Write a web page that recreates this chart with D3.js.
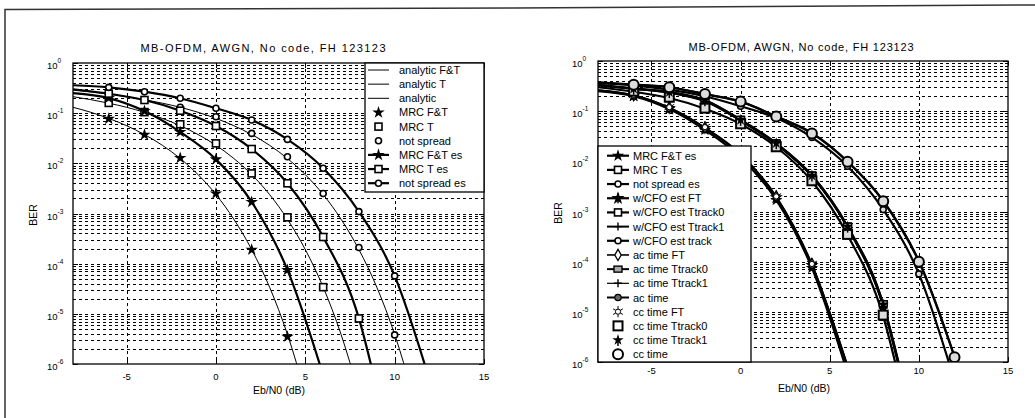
<!DOCTYPE html>
<html>
<head>
<meta charset="utf-8">
<script src="https://cdn.jsdelivr.net/npm/d3@7"></script>
<style>
  body { margin: 0; background: #fff; }
  svg { font-family: "Liberation Sans", Arial, sans-serif; }
</style>
</head>
<body>
<svg id="fig" width="1035" height="418"></svg>
<script>
// ---- left panel: analytic curves (thin lines) ----
var anaFtSnr = [-8, -7, -6, -5, -4, -3, -2, -1, 0, 1, 2, 3, 4, 5]
var anaFtBer = [0.131, 0.104, 0.0786, 0.0563, 0.0375, 0.0229, 0.0125, 0.00595, 0.00239, 7.7e-4, 1.91e-4, 3.4e-5, 3.9e-6, 2.6e-7]
var anaTSnr = [-8, -7, -6, -5, -4, -3, -2, -1, 0, 1, 2, 3, 4, 5, 6, 7, 8]
var anaTBer = [0.213, 0.186, 0.158, 0.131, 0.104, 0.0786, 0.0563, 0.0375, 0.0229, 0.0125, 0.00595, 0.00239, 7.7e-4, 1.91e-4, 3.4e-5, 3.9e-6, 2.6e-7]
var anaSnr = [-8, -7, -6, -5, -4, -3, -2, -1, 0, 1, 2, 3, 4, 5, 6, 7, 8, 9, 10, 11]
var anaBer = [0.287, 0.264, 0.239, 0.213, 0.186, 0.158, 0.131, 0.104, 0.0786, 0.0563, 0.0375, 0.0229, 0.0125, 0.00595, 0.00239, 7.7e-4, 1.91e-4, 3.4e-5, 3.9e-6, 2.6e-7]

// simulated points (markers only)
var mrcFtSnr = [-6, -4, -2, 0, 2, 4]
var mrcFtBer = [0.077, 0.037, 0.0128, 0.0025, 1.9e-4, 3.5e-6]
var mrcTSnr = [-6, -4, -2, 0, 2, 4, 6]
var mrcTBer = [0.16, 0.105, 0.06, 0.025, 6.3e-3, 8.4e-4, 3.4e-5]
var nsSnr = [-6, -4, -2, 0, 2, 4, 6, 8, 10]
var nsBer = [0.24, 0.186, 0.131, 0.085, 0.0395, 0.0135, 2.5e-3, 2.1e-4, 3.8e-6]

// "es" curves (thick lines)
var esFtSnr = [-8, -6, -4, -2, 0, 2, 4, 6]
var esFtBer = [0.25, 0.2, 0.11, 0.042, 0.012, 1.7e-3, 7.5e-5, 6e-7]
var esTSnr = [-8, -6, -4, -2, 0, 2, 4, 6, 8, 9]
var esTBer = [0.30, 0.245, 0.183, 0.112, 0.0555, 0.0193, 4.0e-3, 3.4e-4, 8.1e-6, 3.2e-7]
var esNsSnr = [-8, -6, -4, -2, 0, 2, 4, 6, 8, 10, 12]
var esNsBer = [0.36, 0.327, 0.268, 0.198, 0.125, 0.073, 0.030, 8.0e-3, 1.09e-3, 5.7e-5, 4.2e-7]

// ---- right panel ----
var rFtSnr = [-8, -6, -4, -2, 0, 2, 4, 6]
var cfoFtBer = [0.26, 0.205, 0.115, 0.046, 0.0135, 1.9e-3, 8.5e-5, 8e-7]
var acFtBer = [0.265, 0.21, 0.118, 0.047, 0.014, 2.0e-3, 9.0e-5, 8.5e-7]
var ccFtBer = [0.265, 0.21, 0.12, 0.048, 0.014, 2.0e-3, 9.0e-5, 8.5e-7]

var rTSnr = [-8, -6, -4, -2, 0, 2, 4, 6, 8, 9]
var cfoT0Ber = [0.33, 0.28, 0.24, 0.165, 0.067, 0.0229, 5.2e-3, 5.0e-4, 1.4e-5, 6e-7]
var cfoT1Ber = [0.33, 0.28, 0.235, 0.16, 0.065, 0.022, 5.0e-3, 4.8e-4, 1.3e-5, 5.5e-7]
var acT0Ber = [0.335, 0.285, 0.24, 0.165, 0.068, 0.023, 5.3e-3, 5.1e-4, 1.45e-5, 6.2e-7]
var acT1Ber = [0.32, 0.275, 0.23, 0.155, 0.063, 0.0215, 4.9e-3, 4.6e-4, 1.2e-5, 5e-7]
var ccT0Ber = [0.30, 0.25, 0.19, 0.115, 0.056, 0.0195, 4.1e-3, 3.5e-4, 8.6e-6, 3.4e-7]
var ccT1Ber = [0.33, 0.28, 0.24, 0.165, 0.067, 0.023, 5.2e-3, 5.0e-4, 1.4e-5, 6e-7]

var rNsSnr = [-8, -6, -4, -2, 0, 2, 4, 6, 8, 10, 12, 13]
var cfoNsBer = [0.37, 0.335, 0.30, 0.217, 0.155, 0.078, 0.036, 9.8e-3, 1.6e-3, 1.0e-4, 1.25e-6, 1e-7]
var acNsBer = [0.375, 0.34, 0.30, 0.22, 0.156, 0.079, 0.037, 0.010, 1.65e-3, 1.05e-4, 1.3e-6, 1e-7]
var ccNsBer = [0.37, 0.335, 0.30, 0.22, 0.155, 0.078, 0.036, 9.8e-3, 1.6e-3, 1.0e-4, 1.25e-6, 1e-7]

var titleText = "MB-OFDM, AWGN, No code, FH 123123"

function pts(snr, ber) {
  return snr.map(function(s, i) { return [s, ber[i]] })
}

var leftSeries = [
  { name: "analytic F&T", data: pts(anaFtSnr, anaFtBer), line: 1, marker: null, legendLine: true },
  { name: "analytic T", data: pts(anaTSnr, anaTBer), line: 1, marker: null, legendLine: true },
  { name: "analytic", data: pts(anaSnr, anaBer), line: 1, marker: null, legendLine: true },
  { name: "MRC F&T", data: pts(mrcFtSnr, mrcFtBer), line: 0, marker: "star" },
  { name: "MRC T", data: pts(mrcTSnr, mrcTBer), line: 0, marker: "square" },
  { name: "not spread", data: pts(nsSnr, nsBer), line: 0, marker: "circle" },
  { name: "MRC F&T es", data: pts(esFtSnr, esFtBer), line: 2.2, marker: "star" },
  { name: "MRC T es", data: pts(esTSnr, esTBer), line: 2.2, marker: "square" },
  { name: "not spread es", data: pts(esNsSnr, esNsBer), line: 2.2, marker: "circle" }
]

var rightSeries = [
  { name: "MRC F&T es", data: pts(esFtSnr, esFtBer), line: 2.2, marker: "star" },
  { name: "MRC T es", data: pts(esTSnr, esTBer), line: 2.2, marker: "square" },
  { name: "not spread es", data: pts(esNsSnr, esNsBer), line: 2.2, marker: "circle" },
  { name: "w/CFO est FT", data: pts(rFtSnr, cfoFtBer), line: 2.2, marker: "star6" },
  { name: "w/CFO est Ttrack0", data: pts(rTSnr, cfoT0Ber), line: 2.2, marker: "square" },
  { name: "w/CFO est Ttrack1", data: pts(rTSnr, cfoT1Ber), line: 2, marker: "plus" },
  { name: "w/CFO est track", data: pts(rNsSnr, cfoNsBer), line: 2.2, marker: "circle" },
  { name: "ac time FT", data: pts(rFtSnr, acFtBer), line: 1.6, marker: "diamond" },
  { name: "ac time Ttrack0", data: pts(rTSnr, acT0Ber), line: 2, marker: "squareGrey" },
  { name: "ac time Ttrack1", data: pts(rTSnr, acT1Ber), line: 1.2, marker: "plus" },
  { name: "ac time", data: pts(rNsSnr, acNsBer), line: 2, marker: "dot" },
  { name: "cc time FT", data: pts(rFtSnr, ccFtBer), line: 0, marker: "sun" },
  { name: "cc time Ttrack0", data: pts(rTSnr, ccT0Ber), line: 0, marker: "bigsquare" },
  { name: "cc time Ttrack1", data: pts(rTSnr, ccT1Ber), line: 0, marker: "starplus" },
  { name: "cc time", data: pts(rNsSnr, ccNsBer), line: 0, marker: "bigcircle" }
]

var svg = d3.select("#fig")

// scanned page frame
svg.append("path")
  .attr("d", "M5,418L5,9.5L515,8L1035,5")
  .attr("fill", "none")
  .attr("stroke", "#333")
  .attr("stroke-width", 1.5)

function drawMarker(g, name, cx, cy, fill) {
  var m = g.append("g").attr("transform", "translate(" + cx + "," + cy + ")")
  if (name == "star") {
    m.append("path").attr("d", d3.symbol(d3.symbolStar, 48)()).attr("fill", "#000")
  } else if (name == "star6") {
    m.append("path").attr("d", d3.symbol(d3.symbolStar, 55)()).attr("fill", "#000")
    m.append("path").attr("d", "M0,-5V5").attr("stroke", "#000").attr("stroke-width", 1.5)
  } else if (name == "square") {
    m.append("rect").attr("x", -3.5).attr("y", -3.5).attr("width", 7).attr("height", 7)
      .attr("fill", fill).attr("stroke", "#000").attr("stroke-width", 1.6)
  } else if (name == "squareGrey") {
    m.append("rect").attr("x", -4).attr("y", -3).attr("width", 8).attr("height", 6)
      .attr("fill", "#aaa").attr("stroke", "#000").attr("stroke-width", 1.4)
  } else if (name == "circle") {
    m.append("circle").attr("r", 3).attr("fill", fill).attr("stroke", "#000").attr("stroke-width", 1.6)
  } else if (name == "dot") {
    m.append("circle").attr("r", 3.2).attr("fill", "#666").attr("stroke", "#000").attr("stroke-width", 1.2)
  } else if (name == "plus") {
    m.append("path").attr("d", "M-4,0H4M0,-4V4").attr("stroke", "#000").attr("stroke-width", 1.4)
  } else if (name == "diamond") {
    m.append("path").attr("d", d3.symbol(d3.symbolDiamond, 36)()).attr("fill", fill)
      .attr("stroke", "#000").attr("stroke-width", 1.3)
  } else if (name == "sun") {
    m.append("path").attr("d", d3.symbol(d3.symbolAsterisk, 90)()).attr("stroke", "#000")
      .attr("stroke-width", 1).attr("fill", "none")
    m.append("circle").attr("r", 2.6).attr("fill", "#fff").attr("stroke", "#000").attr("stroke-width", 1)
  } else if (name == "bigsquare") {
    m.append("rect").attr("x", -4.5).attr("y", -4.5).attr("width", 9).attr("height", 9)
      .attr("fill", fill).attr("stroke", "#000").attr("stroke-width", 2)
  } else if (name == "starplus") {
    m.append("path").attr("d", d3.symbol(d3.symbolStar, 40)()).attr("fill", "#000")
    m.append("path").attr("d", "M0,0V6").attr("stroke", "#000").attr("stroke-width", 1.5)
  } else if (name == "bigcircle") {
    m.append("circle").attr("r", 5).attr("fill", fill).attr("stroke", "#000").attr("stroke-width", 2)
  }
}

function drawPanel(p) {
  var g = svg.append("g")

  var x = d3.scaleLinear().domain([-8, 15]).range([p.x0, p.x1])
  var y = d3.scaleLog().domain([1e-6, 1]).range([p.y1, p.y0])

  var clipId = "clip" + p.id
  g.append("clipPath").attr("id", clipId)
    .append("rect")
      .attr("x", p.x0).attr("y", p.y0)
      .attr("width", p.x1 - p.x0).attr("height", p.y1 - p.y0)

  var yTicks = y.ticks()
  var isMajor = function(v) { return Math.abs(Math.log10(v) - Math.round(Math.log10(v))) < 1e-6 }
  var xTicks = x.ticks(5)

  // grid
  g.append("g").selectAll("line")
    .data(yTicks.filter(function(v) { return v > 1.5e-6 && v < 0.99 }))
    .enter().append("line")
      .attr("x1", p.x0).attr("x2", p.x1)
      .attr("y1", function(d) { return Math.round(y(d)) + 0.5 })
      .attr("y2", function(d) { return Math.round(y(d)) + 0.5 })
      .attr("stroke", "#000")
      .attr("stroke-width", 1)
      .attr("stroke-dasharray", "3,3")

  g.append("g").selectAll("line")
    .data(xTicks.filter(function(v) { return v > -8 && v < 15 }))
    .enter().append("line")
      .attr("x1", function(d) { return Math.round(x(d)) + 0.5 })
      .attr("x2", function(d) { return Math.round(x(d)) + 0.5 })
      .attr("y1", p.y0).attr("y2", p.y1)
      .attr("stroke", "#000")
      .attr("stroke-width", 1)
      .attr("stroke-dasharray", "3,3")

  // tick marks (inside, both sides)
  var tk = g.append("g").attr("stroke", "#000").attr("stroke-width", 1)
  yTicks.forEach(function(v) {
    var len = isMajor(v) ? 5 : 3
    var yy = Math.round(y(v)) + 0.5
    tk.append("line").attr("x1", p.x0).attr("x2", p.x0 + len).attr("y1", yy).attr("y2", yy)
    tk.append("line").attr("x1", p.x1).attr("x2", p.x1 - len).attr("y1", yy).attr("y2", yy)
  })
  xTicks.forEach(function(v) {
    var xx = Math.round(x(v)) + 0.5
    tk.append("line").attr("x1", xx).attr("x2", xx).attr("y1", p.y1).attr("y2", p.y1 - 5)
    tk.append("line").attr("x1", xx).attr("x2", xx).attr("y1", p.y0).attr("y2", p.y0 + 5)
  })

  // series
  var line = d3.line()
    .x(function(d) { return x(d[0]) })
    .y(function(d) { return y(d[1]) })
    .curve(d3.curveMonotoneX)

  var plot = g.append("g").attr("clip-path", "url(#" + clipId + ")")
  p.series.forEach(function(s) {
    if (s.line > 0) {
      plot.append("path")
        .attr("d", line(s.data))
        .attr("fill", "none")
        .attr("stroke", "#000")
        .attr("stroke-width", s.line)
    }
  })
  p.series.forEach(function(s) {
    if (!s.marker) return
    s.data.forEach(function(d) {
      if (d[0] >= -6 && d[0] % 2 == 0 && d[1] >= 1e-6 && d[1] <= 1) {
        drawMarker(plot, s.marker, x(d[0]), y(d[1]), p.markerFill)
      }
    })
  })

  // axes box
  g.append("rect")
    .attr("x", p.x0).attr("y", p.y0)
    .attr("width", p.x1 - p.x0).attr("height", p.y1 - p.y0)
    .attr("fill", "none").attr("stroke", "#000").attr("stroke-width", 1.3)

  // tick labels
  yTicks.filter(isMajor).forEach(function(v) {
    var t = g.append("text")
      .attr("x", p.x0 - 26)
      .attr("y", y(v) + 6)
      .attr("font-size", 9.5)
      .text("10")
    t.append("tspan")
      .attr("dy", -6)
      .attr("font-size", 6.5)
      .text(Math.round(Math.log10(v)))
  })

  g.append("g").selectAll("text")
    .data(xTicks)
    .enter().append("text")
      .attr("x", function(d) { return x(d) })
      .attr("y", p.tickLabY)
      .attr("text-anchor", "middle")
      .attr("font-size", 9.5)
      .text(function(d) { return d })

  // labels
  g.append("text")
    .attr("x", p.titleX).attr("y", p.titleY)
    .attr("text-anchor", "middle")
    .attr("font-size", 11)
    .attr("textLength", p.titleW)
    .attr("lengthAdjust", "spacing")
    .text(titleText)

  g.append("text")
    .attr("x", p.xlabX).attr("y", p.xlabY)
    .attr("text-anchor", "middle")
    .attr("font-size", 10.5)
    .text("Eb/N0 (dB)")

  g.append("text")
    .attr("transform", "translate(" + p.ylabX + "," + p.ylabY + ") rotate(-90)")
    .attr("text-anchor", "middle")
    .attr("font-size", 10.5)
    .text("BER")

  // legend
  var L = p.legend
  var lg = g.append("g")
  lg.append("rect")
    .attr("x", L.x).attr("y", L.y).attr("width", L.w).attr("height", L.h)
    .attr("fill", "#fff").attr("stroke", "#000").attr("stroke-width", 1.3)
  p.series.forEach(function(s, i) {
    var yy = L.firstY + i * L.step
    if (s.line > 0) {
      lg.append("line")
        .attr("x1", L.lx0).attr("x2", L.lx1).attr("y1", yy).attr("y2", yy)
        .attr("stroke", "#000").attr("stroke-width", s.legendLine ? 1 : s.line)
    }
    if (s.marker) drawMarker(lg, s.marker, (L.lx0 + L.lx1) / 2, yy, "#fff")
    lg.append("text")
      .attr("x", L.tx).attr("y", yy + 4)
      .attr("font-size", 11)
      .text(s.name)
  })
}

drawPanel({
  id: "L", x0: 73, x1: 484, y0: 63, y1: 364,
  titleX: 263, titleY: 52, titleW: 245,
  xlabX: 279, xlabY: 394, ylabX: 37, ylabY: 215, tickLabY: 380,
  markerFill: "#fff",
  series: leftSeries,
  legend: { x: 365, y: 63, w: 119, h: 129, firstY: 70, step: 14.15, lx0: 368, lx1: 389, tx: 399 }
})

drawPanel({
  id: "R", x0: 598, x1: 1008, y0: 61, y1: 362,
  titleX: 801, titleY: 51, titleW: 225,
  xlabX: 804, xlabY: 392, ylabX: 562, ylabY: 213, tickLabY: 374,
  markerFill: "#ddd",
  series: rightSeries,
  legend: { x: 598, y: 146, w: 153, h: 216, firstY: 155.7, step: 14.18, lx0: 607, lx1: 629, tx: 633 }
})
</script>
</body>
</html>
